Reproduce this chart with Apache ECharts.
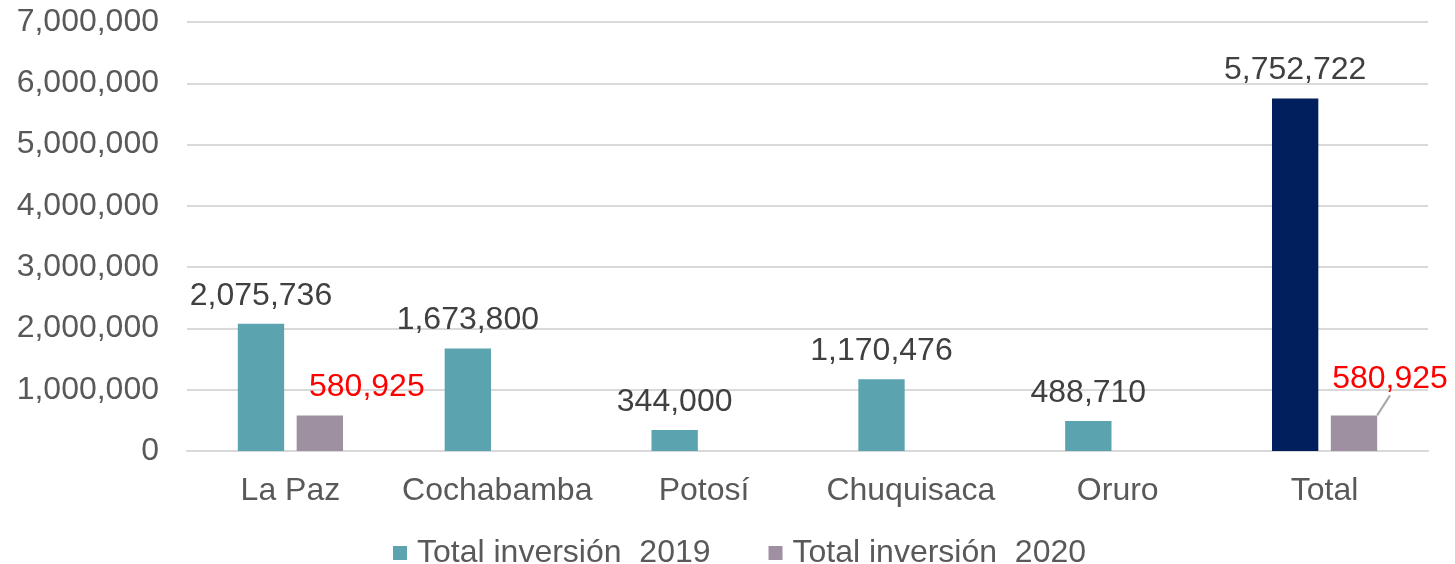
<!DOCTYPE html>
<html>
<head>
<meta charset="utf-8">
<script src="https://cdn.jsdelivr.net/npm/echarts@6/dist/echarts.min.js"></script>
<style>html,body{margin:0;padding:0;background:#fff}#c{width:1455px;height:564px}</style>
</head>
<body>
<div id="c"></div>
<script>
var categories = ['La Paz', 'Cochabamba', 'Potosí', 'Chuquisaca', 'Oruro', 'Total'];
var inv2019 = [2075736, 1673800, 344000, 1170476, 488710, 5752722];
var inv2020 = [580925, null, null, null, null, 580925];
var seriesNames = ['Total inversión  2019', 'Total inversión  2020'];
var yTicks = [0, 1000000, 2000000, 3000000, 4000000, 5000000, 6000000, 7000000];

var FONT = 'Liberation Sans, Arial, sans-serif';
var FS = 32;
function fmt(v) { return Number(v).toLocaleString('en-US'); }

var chart = echarts.init(document.getElementById('c'), null, {renderer: 'canvas'});
chart.setOption({
  animation: false,
  textStyle: {fontFamily: FONT},
  grid: {left: 187, right: 27, top: 22, bottom: 113, containLabel: false},
  legend: {
    top: 532, left: 388,
    itemWidth: 14, itemHeight: 14, itemGap: 58,
    icon: 'rect',
    textStyle: {fontSize: FS, color: '#595959', fontFamily: FONT, padding: [0, 0, 0, 5]},
    data: seriesNames
  },
  xAxis: {
    type: 'category', data: categories,
    axisLine: {lineStyle: {color: '#d9d9d9', width: 2}},
    axisTick: {show: false},
    axisLabel: {fontSize: FS, color: '#595959', margin: 24, interval: 0, fontFamily: FONT}
  },
  yAxis: {
    type: 'value', min: yTicks[0], max: yTicks[yTicks.length - 1], interval: 1000000,
    axisLine: {show: false}, axisTick: {show: false},
    splitLine: {lineStyle: {color: '#d9d9d9', width: 2}},
    axisLabel: {fontSize: FS, color: '#595959', margin: 28, fontFamily: FONT, formatter: function (v) { return fmt(v); }}
  },
  series: [
    {
      name: seriesNames[0], type: 'bar', barWidth: '22.4%', barGap: '27%',
      itemStyle: {color: '#5BA3AF'},
      data: inv2019.map(function (v, i) {
        return i === categories.length - 1 ? {value: v, itemStyle: {color: '#001F5C'}} : v;
      }),
      label: {show: true, position: 'top', distance: 12, fontSize: FS, color: '#404040', fontFamily: FONT,
        formatter: function (p) { return fmt(p.value); }}
    },
    {
      name: seriesNames[1], type: 'bar', barWidth: '22.4%', barGap: '27%',
      itemStyle: {color: '#9E90A0'},
      data: inv2020.map(function (v, i) {
        return i === 0 ? {value: v, labelLine: {show: false}} : v;
      }),
      label: {show: true, position: 'top', distance: 12, fontSize: FS, color: '#FF0000', fontFamily: FONT,
        formatter: function (p) { return p.value == null ? '' : fmt(p.value); }},
      labelLine: {show: true, lineStyle: {color: '#a6a6a6', width: 2}},
      labelLayout: function (p) {
        if (p.dataIndex === 0) return {dx: 47, dy: 0};
        if (p.dataIndex === 5) return {dx: 36, dy: -8};
        return {};
      }
    }
  ]
});
</script>
</body>
</html>
